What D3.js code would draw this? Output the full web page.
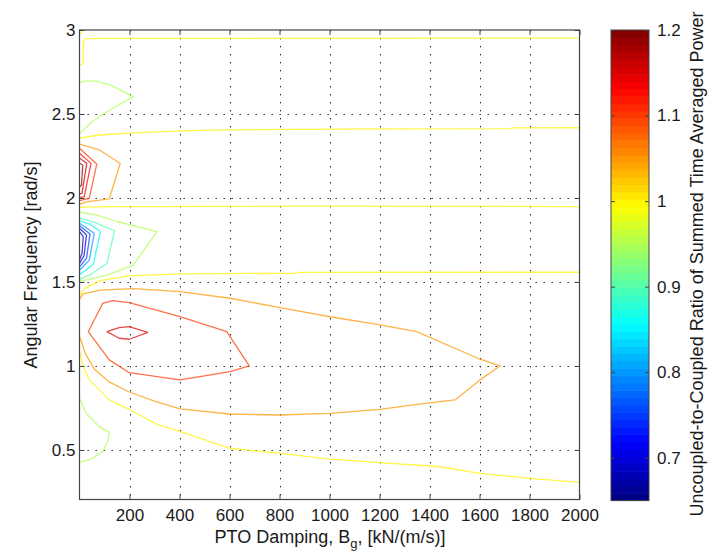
<!DOCTYPE html>
<html><head><meta charset="utf-8">
<script src="https://cdn.jsdelivr.net/npm/d3@7"></script>
<style>
body{margin:0;background:#fff}
text{font-family:"Liberation Sans",Arial,Helvetica,sans-serif;fill:#1a1a1a}
</style>
</head><body>
<svg id="chart" width="722" height="555"></svg>
<script>
// ---------- data ----------
const xDomain = [0, 2000];
const yDomain = [0.205, 3];
const cDomain = [0.65, 1.2];
const xTicks = [200, 400, 600, 800, 1000, 1200, 1400, 1600, 1800, 2000];
const yTicks = [0.5, 1, 1.5, 2, 2.5, 3];
const cTicks = [0.7, 0.8, 0.9, 1, 1.1, 1.2];

// contour polylines: [PTO damping, angular frequency]
const c100_top    = [[0,2.79],[13,2.80],[15,2.84],[15,2.93],[25,2.947],[60,2.95],[2000,2.952]];
const c100_corner = [[0,2.968],[10,2.998]];
const c095_upper  = [[0,2.685],[22,2.696],[69,2.696],[122,2.673],[215,2.603],[122,2.524],[49,2.454],[9,2.395],[0,2.385]];
const c100_240    = [[0,2.358],[80,2.375],[200,2.386],[400,2.399],[600,2.405],[880,2.409],[1200,2.411],[1720,2.413],[1740,2.417],[2000,2.418]];
const c105_upper  = [[0,2.321],[80,2.286],[163,2.205],[119,1.995],[33,1.978],[0,1.964]];
const c110_upper  = [[0,2.296],[69,2.202],[39,1.998],[0,1.984]];
const c113_upper  = [[0,2.266],[46,2.206],[19,2.008],[0,2.002]];
const c116_upper  = [[0,2.238],[29,2.206],[10,2.028],[0,2.024]];
const c119_upper  = [[0,2.208],[13,2.196],[8,2.077],[0,2.065]];
const c100_195    = [[0,1.944],[100,1.948],[880,1.951],[2000,1.949]];
const c095_mid    = [[0,1.915],[66,1.90],[150,1.86],[310,1.80],[215,1.60],[119,1.545],[40,1.515],[0,1.505]];
const c090_mid    = [[0,1.88],[60,1.855],[140,1.805],[110,1.61],[50,1.55],[0,1.515]];
const c085_mid    = [[0,1.865],[40,1.845],[84,1.80],[55,1.605],[25,1.57],[0,1.545]];
const c080_mid    = [[0,1.85],[59,1.79],[39,1.63],[0,1.57]];
const c075_mid    = [[0,1.835],[42,1.785],[28,1.64],[0,1.59]];
const c070_mid    = [[0,1.82],[28,1.78],[18,1.655],[0,1.61]];
const c068_mid    = [[0,1.80],[15,1.77],[10,1.67],[0,1.63]];
const c100_155    = [[0,1.42],[22,1.462],[82,1.508],[199,1.536],[402,1.548],[870,1.552],[880,1.557],[2000,1.558]];
const c105_loop   = [[0,1.397],[15,1.429],[82,1.452],[215,1.46],[402,1.442],[602,1.403],[802,1.347],[1002,1.293],[1202,1.244],[1349,1.204],[1602,1.04],[1682,1.0],[1602,0.917],[1502,0.798],[1335,0.768],[1202,0.742],[1002,0.718],[802,0.708],[600,0.714],[402,0.745],[300,0.79],[199,0.845],[119,0.905],[60,0.98],[25,1.07],[0,1.175]];
const c110_loop   = [[35,1.204],[93,1.373],[133,1.389],[199,1.377],[402,1.293],[589,1.204],[679,1.0],[602,0.966],[482,0.936],[402,0.917],[199,0.96],[119,1.036],[35,1.204]];
const c115_loop   = [[109,1.204],[159,1.228],[199,1.234],[273,1.20],[199,1.159],[159,1.165],[109,1.204]];
const c100_low    = [[0,1.09],[15,1.0],[39,0.917],[119,0.798],[199,0.742],[306,0.655],[402,0.61],[602,0.51],[802,0.48],[1002,0.445],[1202,0.424],[1442,0.40],[1602,0.361],[1802,0.331],[2000,0.307]];
const c095_low    = [[0,0.807],[26,0.718],[79,0.639],[119,0.603],[113,0.55],[93,0.49],[46,0.446],[0,0.426]];

const contourLevels = [1.0,1.0,0.95,1.0,1.05,1.1,1.13,1.16,1.19,1.0,0.95,0.9,0.85,0.8,0.75,0.7,0.675,1.0,1.05,1.1,1.15,1.0,0.95];
const contourLines  = [c100_top,c100_corner,c095_upper,c100_240,c105_upper,c110_upper,c113_upper,c116_upper,c119_upper,c100_195,c095_mid,c090_mid,c085_mid,c080_mid,c075_mid,c070_mid,c068_mid,c100_155,c105_loop,c110_loop,c115_loop,c100_low,c095_low];

// ---------- drawing ----------
const svg = d3.select("#chart");
const L = 79.5, R = 579.5, T = 30, B = 499.5;
const x = d3.scaleLinear().domain(xDomain).range([L, R]);
const y = d3.scaleLinear().domain(yDomain).range([B, T]);

const cl = v => Math.max(0, Math.min(1, v));
function jet(t){
  const r = cl(1.5 - Math.abs(4*t - 3)), g = cl(1.5 - Math.abs(4*t - 2)), b = cl(1.5 - Math.abs(4*t - 1));
  return d3.rgb(r*255, g*255, b*255).toString();
}
const cNorm = d3.scaleLinear().domain(cDomain).range([0, 1]).clamp(true);
const colorOf = v => jet(cNorm(v));

svg.append("defs").append("clipPath").attr("id","clip")
  .append("rect").attr("x",L).attr("y",T).attr("width",R-L).attr("height",B-T);

// grid
const grid = svg.append("g").attr("stroke","#222").attr("stroke-width",1).attr("stroke-dasharray","1.4,6.6");
grid.selectAll(".gx").data(xTicks.filter(d=>d<xDomain[1])).enter().append("line")
  .attr("x1",d=>Math.round(x(d))+0.5).attr("x2",d=>Math.round(x(d))+0.5).attr("y1",T).attr("y2",B);
grid.selectAll(".gy").data(yTicks.filter(d=>d<yDomain[1])).enter().append("line")
  .attr("y1",d=>Math.round(y(d))+0.5).attr("y2",d=>Math.round(y(d))+0.5).attr("x1",L).attr("x2",R);

// contours
const line = d3.line().x(d=>x(d[0])).y(d=>y(d[1]));
svg.append("g").attr("clip-path","url(#clip)")
  .selectAll("path").data(contourLines).enter().append("path")
  .attr("d", line)
  .attr("fill","none")
  .attr("stroke",(d,i)=>colorOf(contourLevels[i]))
  .attr("stroke-opacity",0.72)
  .attr("stroke-width",1.3)
  .attr("stroke-linejoin","round");

// axes
const axisColor = "#444";
const fmtX = d3.format("d");
const fmtY = d => String(d);
function styleAxis(g){
  g.select(".domain").remove();
  g.selectAll(".tick line").attr("stroke",axisColor);
  g.selectAll(".tick text").style("font-size","17px").attr("fill","#1a1a1a");
}
svg.append("g").attr("transform",`translate(0,${B})`)
  .call(d3.axisBottom(x).tickValues(xTicks).tickSize(-5).tickPadding(9).tickFormat(fmtX)).call(styleAxis);
svg.append("g").attr("transform",`translate(0,${T})`)
  .call(d3.axisTop(x).tickValues(xTicks).tickSize(-5).tickFormat("")).call(styleAxis);
svg.append("g").attr("transform",`translate(${L},0)`)
  .call(d3.axisLeft(y).tickValues(yTicks).tickSize(-5).tickPadding(4).tickFormat(fmtY)).call(styleAxis);
svg.append("g").attr("transform",`translate(${R},0)`)
  .call(d3.axisRight(y).tickValues(yTicks).tickSize(-5).tickFormat("")).call(styleAxis);
svg.append("rect").attr("x",L).attr("y",T).attr("width",R-L).attr("height",B-T)
  .attr("fill","none").attr("stroke",axisColor).attr("stroke-width",1.2);

// axis labels
svg.append("text").attr("transform",`translate(37,265) rotate(-90)`).attr("text-anchor","middle")
  .style("font-size","18px").text("Angular Frequency [rad/s]");
const xl = svg.append("text").attr("x",330).attr("y",543).attr("text-anchor","middle").style("font-size","18px");
xl.append("tspan").text("PTO Damping, B");
xl.append("tspan").attr("dy",5).style("font-size","13px").text("g");
xl.append("tspan").attr("dy",-5).text(", [kN/(m/s)]");

// colorbar
const CL = 611, CR = 649, CT = 30, CB = 500.5;
const cy = d3.scaleLinear().domain(cDomain).range([CB, CT]);
const nBands = 64;
const bands = d3.range(nBands);
const bandEdge = i => cDomain[0] + (cDomain[1]-cDomain[0]) * i / nBands;
svg.append("g").selectAll("rect").data(bands).enter().append("rect")
  .attr("x",CL).attr("width",CR-CL)
  .attr("y",i=>cy(bandEdge(i+1)))
  .attr("height",i=>cy(bandEdge(i))-cy(bandEdge(i+1))+0.6)
  .attr("fill",i=>jet((i+0.5)/nBands));
svg.append("g").attr("transform",`translate(${CR},0)`)
  .call(d3.axisRight(cy).tickValues(cTicks).tickSize(-4).tickPadding(8).tickFormat(fmtY)).call(styleAxis);
svg.append("g").attr("transform",`translate(${CL},0)`)
  .call(d3.axisLeft(cy).tickValues(cTicks).tickSize(-4).tickFormat("")).call(styleAxis);
svg.append("rect").attr("x",CL).attr("y",CT).attr("width",CR-CL).attr("height",CB-CT)
  .attr("fill","none").attr("stroke",axisColor).attr("stroke-width",1);
svg.append("text").attr("transform",`translate(703,264) rotate(-90)`).attr("text-anchor","middle")
  .style("font-size","18px").text("Uncoupled-to-Coupled Ratio of Summed Time Averaged Power");
</script>
</body></html>
